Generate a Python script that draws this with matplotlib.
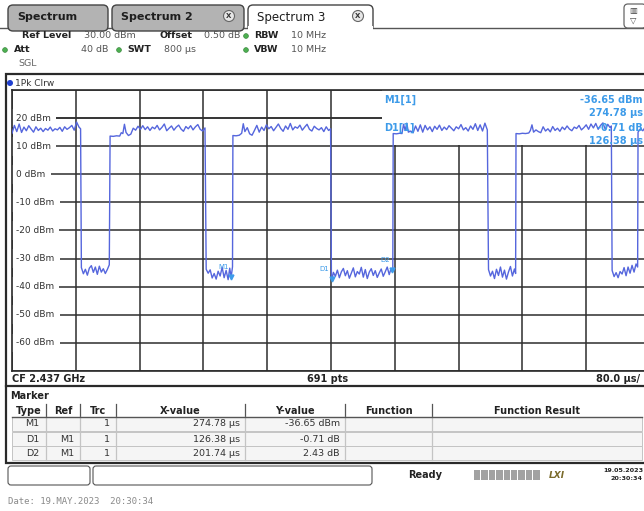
import matplotlib
matplotlib.use("Agg")
import matplotlib.pyplot as plt
from matplotlib.patches import Rectangle, FancyBboxPatch, Circle
from matplotlib.transforms import blended_transform_factory
import numpy as np

W, H = 644, 511

# trace: (time in µs, level in dBm)
on_1 = [(0, 14.6), (3, 17.4), (6, 15.2), (9, 17.9), (12, 14.9), (15, 16.8), (18, 15.5), (21, 17.3),
        (24, 16.1), (27, 15.0), (30, 16.9), (33, 15.6), (36, 16.4), (39, 15.2), (42, 16.3), (45, 15.7),
        (48, 16.8), (51, 15.4), (54, 16.2), (57, 15.8), (60, 16.7), (63, 15.3), (66, 16.9), (69, 16.0),
        (72, 16.6), (75, 17.4), (78, 15.7), (81, 18.6), (84, 16.8), (86, 16.2)]
off_1 = [(87, -33.2), (89.5, -35.4), (92, -33.8), (94.5, -35.9), (97, -33.4), (99.5, -32.5), (102, -34.9),
         (104.5, -33.0), (107, -35.6), (109.5, -32.7), (112, -34.8), (114.5, -33.6), (117, -35.3),
         (119.5, -33.9), (122, -32.2)]
on_2 = [(123, 13.6), (127, 13.5), (131, 13.7), (135, 13.6), (137, 14.8), (139, 14.5), (141, 17.8),
        (143, 14.9), (146, 13.8), (149, 14.3), (152, 16.4), (155, 15.7), (158, 17.1), (161, 16.0),
        (164, 17.3), (167, 15.9), (170, 16.9), (173, 15.6), (176, 16.8), (179, 16.2), (182, 17.4),
        (185, 15.8), (188, 16.7), (191, 17.9), (194, 15.5), (197, 16.4), (200, 17.2), (203, 15.7),
        (206, 16.8), (209, 17.5), (212, 16.1), (215, 15.3), (218, 17.0), (221, 16.2), (224, 17.3),
        (227, 15.8), (230, 16.9), (233, 17.7), (236, 16.0), (239, 15.4), (242, 16.5)]
off_2 = [(243.5, -33.8), (246, -35.2), (248.5, -34.0), (251, -36.9), (253.5, -35.3), (256, -37.3),
         (258.5, -34.5), (261, -36.2), (263.5, -33.1), (266, -36.8), (268.5, -34.2), (271, -37.5),
         (273, -33.4), (274.78, -36.65), (276.5, -32.9)]
on_3 = [(277, 13.8), (281, 13.7), (285, 13.9), (288, 14.6), (290, 18.0), (292, 15.2), (295, 16.6),
        (298, 14.4), (301, 13.9), (304, 15.6), (307, 17.4), (310, 15.0), (313, 16.8), (316, 15.6),
        (319, 17.6), (322, 16.2), (325, 17.0), (328, 15.5), (331, 16.7), (334, 17.9), (337, 16.3),
        (340, 15.3), (343, 17.2), (346, 16.0), (349, 18.1), (352, 15.8), (355, 16.9), (358, 16.4),
        (361, 17.5), (364, 15.7), (367, 16.8), (370, 17.8), (373, 16.0), (376, 15.4), (379, 17.1),
        (382, 16.3), (385, 15.8), (388, 16.6), (391, 15.2), (394, 16.9), (397, 15.6), (399.5, 16.2)]
off_3 = [(400.5, -35.6), (401.16, -37.36), (403, -34.9), (405.5, -36.3), (408, -34.1), (410.5, -36.8),
         (413, -34.7), (415.5, -33.5), (418, -36.1), (420.5, -34.3), (423, -37.0), (425.5, -35.2),
         (428, -33.3), (430.5, -36.5), (433, -34.6), (435.5, -35.5), (438, -33.1), (440.5, -36.6),
         (443, -33.9), (445.5, -37.1), (448, -34.8), (450.5, -33.6), (453, -36.0), (455.5, -34.3),
         (458, -36.7), (460.5, -35.1), (463, -33.7), (465.5, -36.3), (468, -34.7), (470.5, -33.0),
         (473, -35.7), (475, -33.8), (476.52, -34.22), (477.5, -33.5)]
on_4 = [(478, 14.5), (482, 14.4), (486, 14.6), (489, 14.5), (491, 17.8), (493, 15.6), (495, 18.2),
        (497, 15.0), (500, 15.4), (503, 14.8), (506, 17.2), (509, 15.3), (512, 17.6), (515, 15.0),
        (518, 17.4), (521, 15.8), (524, 16.9), (527, 15.2), (530, 17.1), (533, 16.0), (536, 17.5),
        (539, 15.6), (542, 16.8), (545, 15.9), (548, 17.3), (551, 16.4), (554, 15.5), (557, 16.9),
        (560, 16.2), (563, 17.7), (566, 15.8), (569, 16.6), (572, 15.4), (575, 17.2), (578, 16.0),
        (581, 18.0), (584, 15.6), (587, 17.6), (590, 15.4), (593, 18.2), (596, 15.8)]
off_4 = [(597.5, -33.9), (600, -36.2), (602.5, -34.5), (605, -37.1), (607.5, -33.8), (610, -36.0),
         (612.5, -33.0), (615, -36.6), (617.5, -34.1), (620, -37.3), (622.5, -34.8), (625, -32.8),
         (627.5, -36.2), (630, -33.7), (631.5, -35.3)]
on_5 = [(632, 14.5), (636, 14.4), (640, 14.6), (644, 14.5), (648, 14.7), (650, 15.6), (652, 17.6),
        (654, 15.0), (657, 15.8), (660, 15.2), (663, 14.8), (666, 16.9), (669, 15.4), (672, 16.2),
        (675, 15.1), (678, 17.0), (681, 15.6), (684, 16.4), (687, 15.3), (690, 16.8), (693, 15.9),
        (696, 17.2), (699, 16.1), (702, 15.5), (705, 16.8), (708, 16.3), (711, 17.4), (714, 15.8),
        (717, 16.6), (720, 17.6), (723, 16.0), (726, 17.9), (729, 16.5), (732, 18.1), (735, 16.0),
        (738, 17.4), (741, 18.3), (744, 15.9), (747, 17.8), (750, 16.6), (751.5, 17.2)]
off_5 = [(752.5, -34.2), (755, -36.4), (757.5, -35.0), (760, -36.8), (762.5, -34.6), (765, -35.5),
         (767.5, -33.2), (770, -36.1), (772.5, -33.0), (775, -35.2), (777.5, -32.4), (780, -34.8),
         (782.5, -31.9), (784.5, -33.0)]
on_6 = [(785, 15.0), (788, 16.2), (791, 15.5), (794, 16.8), (797, 15.9), (800, 16.4)]

# screen settings
sweep_us = 800
ref_level = 30
db_range = 100
y_grid = [20, 10, 0, -10, -20, -30, -40, -50, -60]
y_labels = [f"{v} dBm" for v in y_grid]

# marker table
mk_type = ["M1", "D1", "D2"]
mk_ref = ["", "M1", "M1"]
mk_trc = ["1", "1", "1"]
mk_x = [274.78, 126.38, 201.74]
mk_y = [-36.65, -0.71, 2.43]
mk_unit = ["dBm", "dB", "dB"]

TRACE = "#5566dd"
MARK = "#3d9be9"
GRID = "#2e2e2e"
DARK = "#2a2a2a"

fig = plt.figure(figsize=(W / 100, H / 100), dpi=100)
bg = fig.add_axes([0, 0, 1, 1], zorder=0)
bg.set_xlim(0, W)
bg.set_ylim(H, 0)
bg.axis("off")
fig.patch.set_facecolor("white")

# --- tabs ---
bg.plot([0, W], [28, 28], color="#555555", lw=1.0)
for x0, x1, name, active, close in [(6, 110, "Spectrum", False, False),
                                    (110, 246, "Spectrum 2", False, True),
                                    (246, 375, "Spectrum 3", True, True)]:
    bg.add_patch(FancyBboxPatch((x0 + 2, 5), x1 - x0 - 4, 26,
                                boxstyle="round,pad=0,rounding_size=5",
                                fc="white" if active else "#b3b3b3", ec="#444444", lw=1.0,
                                zorder=2))
    bg.text(x0 + 11, 17, name, fontsize=8.5 if active else 8,
            fontweight="normal" if active else "bold", color="#1e1e1e", va="center", zorder=3)
    if close:
        bg.add_patch(Circle((x1 - 17, 16), 5.5, fc="#e6e6e6", ec="#666666", lw=0.8, zorder=3))
        bg.text(x1 - 17, 16.3, "X", fontsize=5, fontweight="bold", ha="center", va="center",
                color="#333333", zorder=4)
bg.add_patch(Rectangle((248, 26), 125, 6, fc="white", ec="none", zorder=3))
bg.add_patch(FancyBboxPatch((624, 4), 22, 24, boxstyle="round,pad=0,rounding_size=4",
                            fc="white", ec="#666666", lw=0.9, zorder=2))
bg.text(633, 11, "▥", fontsize=6, ha="center", va="center", color="#444444", zorder=3)
bg.text(633, 20, "▽", fontsize=6, ha="center", va="center", color="#444444", zorder=3)

# --- header ---
def hdr(x, y, s, bold=False, ha="left", color=None):
    bg.text(x, y, s, fontsize=6.8, fontweight="bold" if bold else "normal", ha=ha, va="center",
            color=color or ("#222222" if bold else "#555555"))

def dot(x, y):
    bg.add_patch(Circle((x, y), 2.4, fc="#4caf50", ec="#2e7d32", lw=0.4))

hdr(22, 36, "Ref Level", True)
hdr(84, 36, "30.00 dBm")
hdr(160, 36, "Offset", True)
hdr(204, 36, "0.50 dB")
dot(246, 36)
hdr(254, 36, "RBW", True)
hdr(291, 36, "10 MHz")
dot(5, 50)
hdr(14, 50, "Att", True)
hdr(108, 50, "40 dB", ha="right")
dot(119, 50)
hdr(127, 50, "SWT", True)
hdr(164, 50, "800 µs")
dot(246, 50)
hdr(254, 50, "VBW", True)
hdr(291, 50, "10 MHz")
hdr(18, 64, "SGL", color="#666666")

# --- frame ---
bg.add_patch(Rectangle((6, 74), W, 389, fc="white", ec=DARK, lw=1.6))
bg.plot([6, W], [386, 386], color=DARK, lw=1.6)
bg.add_patch(Circle((10, 83), 3.0, fc="#1f3fd0", ec="none"))
bg.text(15, 83, "1Pk Clrw", fontsize=6.5, va="center", color="#333333")
bg.text(12, 379, "CF 2.437 GHz", fontsize=7, fontweight="bold", va="center", color="#222222")
bg.text(328, 379, "691 pts", fontsize=7, fontweight="bold", va="center", ha="center", color="#222222")
bg.text(640, 379, "80.0 µs/", fontsize=7, fontweight="bold", va="center", ha="right", color="#222222")

# --- trace axes ---
ax = fig.add_axes([12 / W, (H - 371) / H, 638 / W, 281 / H], zorder=1)
ax.set_xlim(0, sweep_us)
ax.set_ylim(ref_level - db_range, ref_level)
ax.set_xticks(np.arange(0, sweep_us + 1, sweep_us / 10))
ax.set_yticks(np.arange(ref_level - db_range, ref_level + 1, db_range / 10))
ax.tick_params(length=0, labelbottom=False, labelleft=False)
ax.set_axisbelow(True)
ax.grid(True, color=GRID, lw=1.1)
for side in ["top", "bottom", "left"]:
    ax.spines[side].set_color(DARK)
    ax.spines[side].set_linewidth(1.2)
ax.spines["right"].set_visible(False)

blend = blended_transform_factory(ax.transAxes, ax.transData)
for v, lab in zip(y_grid, y_labels):
    ax.text(0.007, v, lab, transform=blend, fontsize=6.5, color="#333333", va="center",
            bbox=dict(fc="white", ec="none", pad=3.5), zorder=1)

# marker info box (covers the grid, trace drawn on top)
ax.add_patch(Rectangle((464, 10.3), 400, 20, fc="white", ec="none", zorder=1.5))
ax.plot([0, 464], [20, 20], color=GRID, lw=1.1, zorder=0.6)

segments = [on_1, off_1, on_2, off_2, on_3, off_3, on_4, off_4, on_5, off_5, on_6]
trace_t = [p[0] for seg in segments for p in seg]
trace_dbm = [p[1] for seg in segments for p in seg]
ax.plot(trace_t, trace_dbm, color=TRACE, lw=1.0, zorder=3)

# markers on trace
m1_t, m1_v = mk_x[0], mk_y[0]
pos = [(m1_t, m1_v), (m1_t + mk_x[1], m1_v + mk_y[1]), (m1_t + mk_x[2], m1_v + mk_y[2])]
for name, (t, v) in zip(mk_type, pos):
    ax.plot([t], [v], marker="v", ms=3.5, color=MARK, zorder=4)
    ax.text(t - 3, v + 2.5, name, fontsize=5, color=MARK, ha="right", va="bottom", zorder=4)

# marker readout, right aligned just inside the picture edge
right_t = (643 - 12) / 638 * sweep_us
mi = dict(fontsize=7, color=MARK, fontweight="bold", zorder=5, va="center")
ax.text(464 + 2, 26.6, "M1[1]", **mi)
ax.text(right_t, 26.6, f"{mk_y[0]:.2f} dBm", **mi, ha="right")
ax.text(right_t, 21.8, f"{mk_x[0]:.2f} µs", **mi, ha="right")
ax.text(464 + 2, 16.6, "D1[1]", **mi)
ax.text(right_t, 16.6, f"{mk_y[1]:.2f} dB", **mi, ha="right")
ax.text(right_t, 11.9, f"{mk_x[1]:.2f} µs", **mi, ha="right")

# --- marker table ---
bg.text(10, 396, "Marker", fontsize=7, fontweight="bold", va="center", color="#222222")
col_edges = [12, 46, 80, 116, 245, 345, 432, 642]
headers = ["Type", "Ref", "Trc", "X-value", "Y-value", "Function", "Function Result"]
row_top = [417, 432, 446]
row_h = 14
for r in range(3):
    bg.add_patch(Rectangle((12, row_top[r]), 630, row_h, fc="#f5f5f5", ec="#c4c4c4", lw=0.7))
for x in col_edges[1:-1]:
    bg.plot([x, x], [404, 417], color="#555555", lw=0.9)
    bg.plot([x, x], [417, 460], color="#c4c4c4", lw=0.9)
bg.plot([12, 642], [417, 417], color="#555555", lw=1.0)
for i, h in enumerate(headers):
    bg.text((col_edges[i] + col_edges[i + 1]) / 2, 410.5, h, fontsize=7, fontweight="bold",
            ha="center", va="center", color="#222222")
for r in range(3):
    yc = row_top[r] + row_h / 2
    tx = dict(fontsize=6.8, va="center", ha="right", color="#333333")
    bg.text(39, yc, mk_type[r], **tx)
    bg.text(74, yc, mk_ref[r], **tx)
    bg.text(110, yc, mk_trc[r], **tx)
    bg.text(240, yc, f"{mk_x[r]:.2f} µs", **tx)
    bg.text(340, yc, f"{mk_y[r]:.2f} {mk_unit[r]}", **tx)

# --- status bar ---
bg.add_patch(FancyBboxPatch((8, 466), 82, 19, boxstyle="round,pad=0,rounding_size=3",
                            fc="white", ec="#555555", lw=0.8))
bg.add_patch(FancyBboxPatch((93, 466), 279, 19, boxstyle="round,pad=0,rounding_size=3",
                            fc="white", ec="#555555", lw=0.8))
bg.text(408, 474.5, "Ready", fontsize=7, fontweight="bold", va="center", color="#222222")
for i in range(9):
    bg.add_patch(Rectangle((474 + i * 7.4, 470), 6.4, 10, fc="#a2a2a2", ec="none"))
bg.text(557, 475, "LXI", fontsize=6.5, fontweight="bold", style="italic", ha="center",
        va="center", color="#7a6a2a")
bg.text(643, 470, "19.05.2023", fontsize=4.6, fontweight="bold", ha="right", va="center",
        color="#222222")
bg.text(643, 478.5, "20:30:34", fontsize=4.6, fontweight="bold", ha="right", va="center",
        color="#222222")

bg.text(8, 502, "Date: 19.MAY.2023  20:30:34", fontsize=6.5, family="DejaVu Sans Mono",
        va="center", color="#8a8a8a")

fig.savefig("out.png", dpi=100)
